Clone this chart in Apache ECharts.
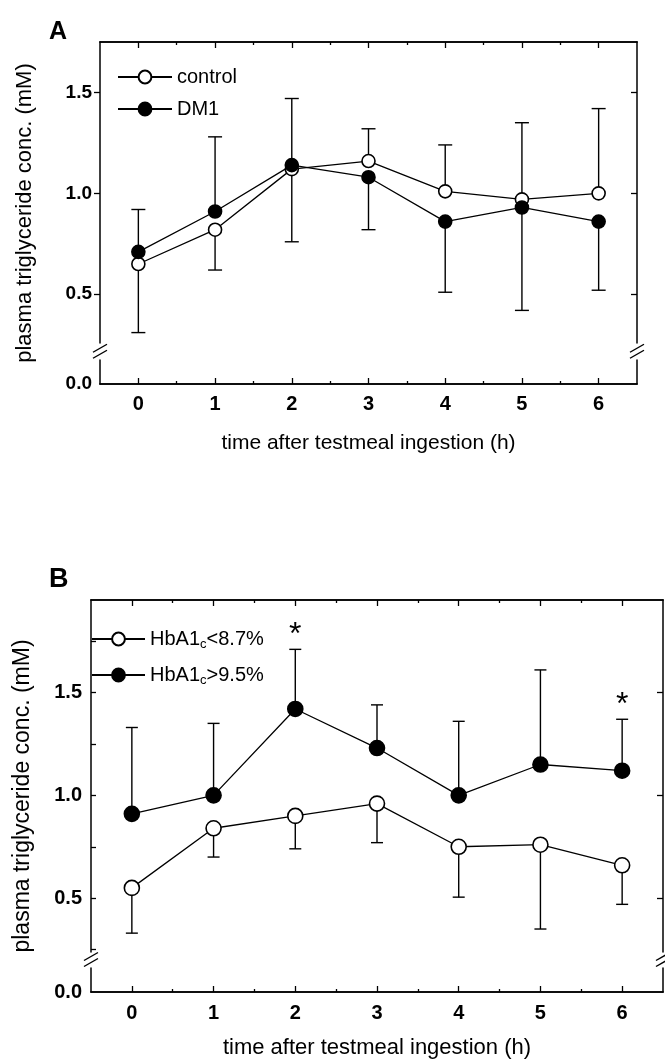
<!DOCTYPE html>
<html><head><meta charset="utf-8">
<script src="https://cdn.jsdelivr.net/npm/echarts@6/dist/echarts.min.js"></script>
<style>html,body{margin:0;padding:0;background:#fff}#c{width:665px;height:1060px}</style>
</head><body><div id="c"></div>
<script>
// ---------- data ----------
const hours = [0, 1, 2, 3, 4, 5, 6];
const halfHours = [0.5, 1.5, 2.5, 3.5, 4.5, 5.5];
const yLabelValues = [0, 0.5, 1.0, 1.5];
// Panel A
const controlMean   = [0.65, 0.82, 1.12, 1.16, 1.01, 0.97, 1.00];
const controlErrEnd = [0.31, 0.62, 0.76, 1.32, 1.24, 1.35, 1.42];
const dm1Mean       = [0.71, 0.91, 1.14, 1.08, 0.86, 0.93, 0.86];
const dm1ErrEnd     = [0.92, 1.28, 1.47, 0.82, 0.51, 0.42, 0.52];
// Panel B
const lowMean    = [0.55, 0.84, 0.90, 0.96, 0.75, 0.76, 0.66];
const lowErrEnd  = [0.33, 0.70, 0.74, 0.77, 0.505, 0.35, 0.47];
const highMean   = [0.91, 1.00, 1.42, 1.23, 1.00, 1.15, 1.12];
const highErrEnd = [1.33, 1.35, 1.71, 1.44, 1.36, 1.61, 1.37];
const sigHours = [2, 6];

const NARROW = '"Liberation Sans Narrow","Liberation Sans",Arial,sans-serif';
const SANS = '"Liberation Sans",Arial,sans-serif';

const chart = echarts.init(document.getElementById('c'), null, {renderer: 'canvas'});

const pts = (arr) => arr.map((v, i) => [hours[i], v]);
const errPts = (m, e) => m.map((v, i) => [hours[i], v, e[i]]);

function errRender(hw) {
  return function (params, api) {
    const x = api.value(0), m = api.value(1), e = api.value(2);
    const p0 = api.coord([x, m]), p1 = api.coord([x, e]);
    const st = {stroke: '#000', lineWidth: 1.4};
    return {type: 'group', children: [
      {type: 'line', shape: {x1: p0[0], y1: p0[1], x2: p1[0], y2: p1[1]}, style: st},
      {type: 'line', shape: {x1: p1[0] - hw, y1: p1[1], x2: p1[0] + hw, y2: p1[1]}, style: st}
    ]};
  };
}

function xAx(grid, pos, vals, len, withLabels, fs, margin) {
  return {
    type: 'value', gridIndex: grid, position: pos, min: -0.5, max: 6.5,
    axisLine: {show: true, onZero: false, lineStyle: {color: '#000', width: 1.5}},
    axisTick: {show: true, inside: true, length: len, customValues: vals, lineStyle: {color: '#000', width: 1.3}},
    axisLabel: withLabels ? {show: true, customValues: hours, color: '#000', fontFamily: NARROW,
      fontWeight: 'bold', fontSize: fs, margin: margin} : {show: false},
    splitLine: {show: false}
  };
}

function yAx(grid, pos, max, brk, tickVals, tickInside, tickLen, withLabels, fs, margin) {
  return {
    type: 'value', gridIndex: grid, position: pos, min: 0, max: max,
    breaks: [brk],
    breakArea: {show: false},
    axisLine: {show: true, onZero: false, lineStyle: {color: '#000', width: 1.5}},
    axisTick: {show: true, inside: tickInside, length: tickLen, customValues: tickVals, lineStyle: {color: '#000', width: 1.3}},
    axisLabel: withLabels ? {show: true, customValues: yLabelValues, formatter: (v) => v.toFixed(1),
      color: '#000', fontFamily: NARROW, fontWeight: 'bold', fontSize: fs, margin: margin} : {show: false},
    splitLine: {show: false}
  };
}

const brkA = {start: 0.12, end: 0.26, gap: '5%'};
const brkB = {start: 0.12, end: 0.24, gap: '4%'};

const lineSeries = (name, data, xi, yi, filled, size) => ({
  type: 'line', name: name, data: data, xAxisIndex: xi, yAxisIndex: yi,
  symbol: 'circle', symbolSize: size, showSymbol: true, z: 5,
  lineStyle: {color: '#000', width: 1.3},
  itemStyle: {color: filled ? '#000' : '#fff', borderColor: '#000', borderWidth: 1.6},
  emphasis: {disabled: true}, animation: false
});
const errSeries = (data, xi, yi, hw) => ({
  type: 'custom', data: data, xAxisIndex: xi, yAxisIndex: yi, renderItem: errRender(hw), z: 2,
  silent: true, animation: false
});

const option = {
  backgroundColor: '#fff',
  animation: false,
  grid: [
    {left: 100, top: 42, width: 537, height: 342},
    {left: 91, top: 600, width: 572, height: 392}
  ],
  title: [
    {text: 'A', left: 44, top: 15, textStyle: {fontFamily: SANS, fontWeight: 'bold', fontSize: 25, color: '#000'}},
    {text: 'B', left: 44, top: 561, textStyle: {fontFamily: SANS, fontWeight: 'bold', fontSize: 27, color: '#000'}}
  ],
  legend: [
    {data: ['control', 'DM1'], left: 117, top: 67, padding: 0, orient: 'vertical', itemWidth: 54, itemHeight: 16, itemGap: 12,
     selectedMode: false, textStyle: {fontFamily: SANS, fontSize: 20, color: '#000'}},
    {data: ['HbA1c<8.7%', 'HbA1c>9.5%'], left: 91, top: 629, padding: 0, orient: 'vertical', itemWidth: 53, itemHeight: 16,
     itemGap: 14, selectedMode: false,
     formatter: (n) => n === 'HbA1c<8.7%' ? '{a|HbA1}{s|c}{a|<8.7%}' : '{a|HbA1}{s|c}{a|>9.5%}',
     textStyle: {fontFamily: SANS, fontSize: 20, color: '#000',
       rich: {a: {fontFamily: SANS, fontSize: 20, color: '#000'},
              s: {fontFamily: SANS, fontSize: 13, color: '#000', padding: [11, 0, 0, 0]}}}}
  ],
  xAxis: [
    Object.assign(xAx(0, 'bottom', hours, 6, true, 20, 10), {name: 'time after testmeal ingestion (h)', nameLocation: 'middle', nameGap: 49,
      nameTextStyle: {fontFamily: SANS, fontSize: 21, color: '#000'}}),
    xAx(0, 'bottom', halfHours, 3, false),
    xAx(0, 'top', hours, 6, false),
    xAx(0, 'top', halfHours, 3, false),
    Object.assign(xAx(1, 'bottom', hours, 6, true, 20, 11), {name: 'time after testmeal ingestion (h)', nameLocation: 'middle', nameGap: 45,
      nameTextStyle: {fontFamily: SANS, fontSize: 22, color: '#000'}}),
    xAx(1, 'bottom', halfHours, 3, false),
    xAx(1, 'top', hours, 6, false),
    xAx(1, 'top', halfHours, 3, false)
  ],
  yAxis: [
    Object.assign(yAx(0, 'left', 1.75, brkA, [0.5, 1.0, 1.5], false, 6, true, 19, 8), {name: 'plasma triglyceride conc. (mM)',
      nameLocation: 'middle', nameGap: 64, nameTextStyle: {fontFamily: SANS, fontSize: 22, color: '#000'}}),
    yAx(0, 'right', 1.75, brkA, [0.5, 1.0, 1.5], true, 6, false),
    Object.assign(yAx(1, 'left', 1.95, brkB, [0.25, 0.5, 0.75, 1.0, 1.25, 1.5, 1.75], true, 5, true, 20, 9), {name: 'plasma triglyceride conc. (mM)',
      nameLocation: 'middle', nameGap: 57, nameTextStyle: {fontFamily: SANS, fontSize: 23, color: '#000'}}),
    yAx(1, 'right', 1.95, brkB, [0.5, 1.0, 1.5], true, 6, false)
  ],
  series: [
    errSeries(errPts(controlMean, controlErrEnd), 0, 0, 7),
    errSeries(errPts(dm1Mean, dm1ErrEnd), 0, 0, 7),
    lineSeries('control', pts(controlMean), 0, 0, false, 13),
    lineSeries('DM1', pts(dm1Mean), 0, 0, true, 13),
    errSeries(errPts(lowMean, lowErrEnd), 4, 2, 6),
    errSeries(errPts(highMean, highErrEnd), 4, 2, 6),
    lineSeries('HbA1c<8.7%', pts(lowMean), 4, 2, false, 15),
    lineSeries('HbA1c>9.5%', pts(highMean), 4, 2, true, 15),
    {type: 'scatter', xAxisIndex: 4, yAxisIndex: 2, symbol: 'circle', symbolSize: 1,
     itemStyle: {opacity: 0}, silent: true, z: 6,
     data: sigHours.map((h) => [h, highErrEnd[h]]),
     label: {show: true, formatter: '*', position: 'top', distance: -2, fontFamily: SANS, fontSize: 32, color: '#000', opacity: 1}}
  ]
};
chart.setOption(option);

// axis break marks "//" on both vertical box edges
function breakMarks(xi, yi, brk) {
  const ys = chart.convertToPixel({yAxisIndex: yi}, brk.start);
  const ye = chart.convertToPixel({yAxisIndex: yi}, brk.end);
  const yc = (ys + ye) / 2;
  const xl = chart.convertToPixel({xAxisIndex: xi}, -0.5);
  const xr = chart.convertToPixel({xAxisIndex: xi}, 6.5);
  const els = [];
  [xl, xr].forEach((x) => {
    els.push({type: 'rect', shape: {x: x - 3, y: yc - 3, width: 6, height: 6}, style: {fill: '#fff'}, z: 100});
    [-3, 3].forEach((d) => {
      els.push({type: 'line', shape: {x1: x - 7, y1: yc + d + 4, x2: x + 7, y2: yc + d - 4},
        style: {stroke: '#000', lineWidth: 1.4}, z: 101});
    });
  });
  return els;
}
chart.setOption({graphic: breakMarks(0, 0, brkA).concat(breakMarks(4, 2, brkB))});
</script></body></html>
